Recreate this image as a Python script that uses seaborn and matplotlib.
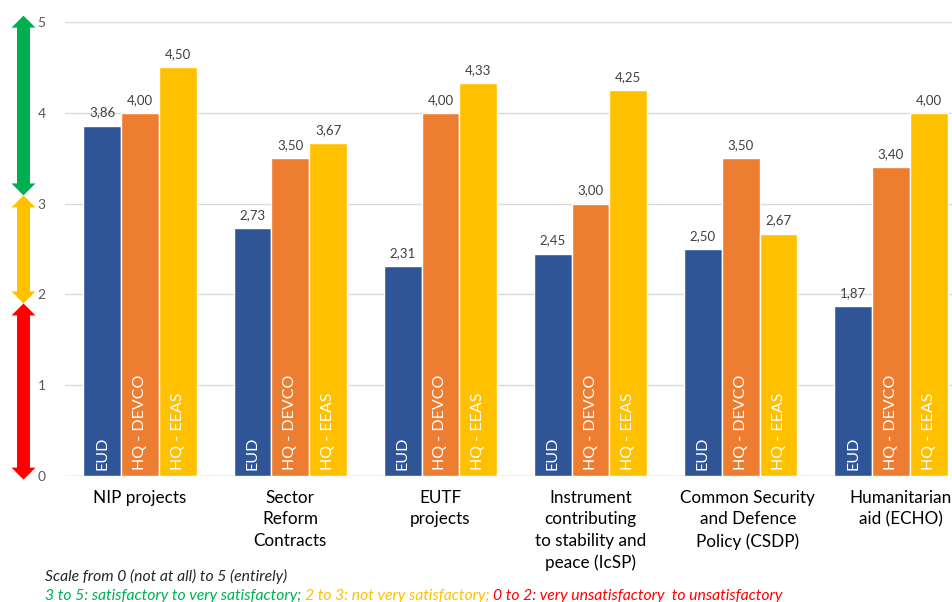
import matplotlib
matplotlib.use("Agg")
import matplotlib.pyplot as plt
import matplotlib.transforms as mtransforms
from matplotlib.patches import Polygon
import seaborn as sns
import pandas as pd

categories = ["NIP projects", "Sector\nReform\nContracts", "EUTF\nprojects",
              "Instrument\ncontributing\nto stability and\npeace (IcSP)",
              "Common Security\nand Defence\nPolicy (CSDP)", "Humanitarian\naid (ECHO)"]
series = ["EUD", "HQ - DEVCO", "HQ - EEAS"]
eud = [3.86, 2.73, 2.31, 2.45, 2.50, 1.87]
devco = [4.00, 3.50, 4.00, 3.00, 3.50, 3.40]
eeas = [4.50, 3.67, 4.33, 4.25, 2.67, 4.00]
colors = ["#2F5597", "#ED7D31", "#FFC000"]

rows = []
for s, vals in zip(series, [eud, devco, eeas]):
    for c, v in zip(categories, vals):
        rows.append({"cat": c, "series": s, "value": v})
df = pd.DataFrame(rows)

sns.set_style("white")
FONT = ["Lato", "DejaVu Sans"]
plt.rcParams["font.family"] = FONT

fig = plt.figure(figsize=(9.52, 6.02), dpi=100)
ax = fig.add_axes([65 / 952, 1 - 476 / 602, 901 / 952, (476 - 22) / 602])

sns.barplot(data=df, x="cat", y="value", hue="series", order=categories,
            hue_order=series, palette=colors, width=0.755, ax=ax,
            edgecolor="white", linewidth=1, saturation=1, legend=False)

ax.set_ylim(0, 5)
ax.set_xlim(-0.5, 5.5)
ax.set_yticks([0, 1, 2, 3, 4, 5])
ax.yaxis.grid(True, color="#D9D9D9", linewidth=1)
ax.set_axisbelow(True)
for sp in ax.spines.values():
    sp.set_visible(False)
ax.axhline(0, color="#D9D9D9", linewidth=1, zorder=0.5)
ax.set_xlabel("")
ax.set_ylabel("")
ax.tick_params(axis="y", length=0, pad=14, labelsize=10, labelcolor="#595959")
ax.tick_params(axis="x", length=0, pad=10, labelsize=12.3, labelcolor="#000000")
xlabels = ax.get_xticklabels()
for lbl in xlabels:
    lbl.set_linespacing(1.42)
    lbl.set_va("top")
for i, dx in [(4, 7), (5, 10)]:
    xlabels[i].set_transform(xlabels[i].get_transform() +
                             mtransforms.ScaledTranslation(dx / 100, 0, fig.dpi_scale_trans))

for cont, name in zip(ax.containers, series):
    labels = [f"{b.get_height():.2f}".replace(".", ",") for b in cont]
    ax.bar_label(cont, labels=labels, padding=5, fontsize=9.5, color="#404040")
    for b in cont:
        ax.text(b.get_x() + b.get_width() / 2, 0.07, name, rotation=90,
                ha="center", va="bottom", color="white", fontsize=11.5)

# Double-headed arrows on the left
tr = mtransforms.blended_transform_factory(fig.transFigure, ax.transData)
px = 1 / 952
cx = 23.5 * px
sw = 6.5 * px
hw = 12 * px
hl = 12 / 90.8

def dbl_arrow(y0, y1, color):
    pts = [(cx, y1), (cx + hw, y1 - hl), (cx + sw, y1 - hl), (cx + sw, y0 + hl),
           (cx + hw, y0 + hl), (cx, y0), (cx - hw, y0 + hl), (cx - sw, y0 + hl),
           (cx - sw, y1 - hl), (cx - hw, y1 - hl)]
    p = Polygon(pts, closed=True, transform=tr, facecolor=color,
                edgecolor="none", clip_on=False)
    fig.patches.append(p)

dbl_arrow(3.09, 5.07, "#00B050")
dbl_arrow(1.90, 3.09, "#FFC000")
dbl_arrow(-0.04, 1.90, "#FF0000")

# Footer
fig.text(45 / 952, 1 - 576 / 602, "Scale from 0 (not at all) to 5 (entirely)",
         style="italic", fontsize=11.3, color="#262626", va="center")
parts = [("3 to 5: satisfactory to very satisfactory; ", "#00B050"),
         ("2 to 3: not very satisfactory; ", "#FFC000"),
         ("0 to 2: very unsatisfactory  to unsatisfactory", "#FF0000")]
fig.canvas.draw()
renderer = fig.canvas.get_renderer()
x = 45
for txt, col in parts:
    t = fig.text(x / 952, 1 - 596 / 602, txt, style="italic", fontsize=11.3,
                 color=col, va="center")
    bb = t.get_window_extent(renderer=renderer)
    x = bb.x1

fig.savefig("out.png", dpi=100)
